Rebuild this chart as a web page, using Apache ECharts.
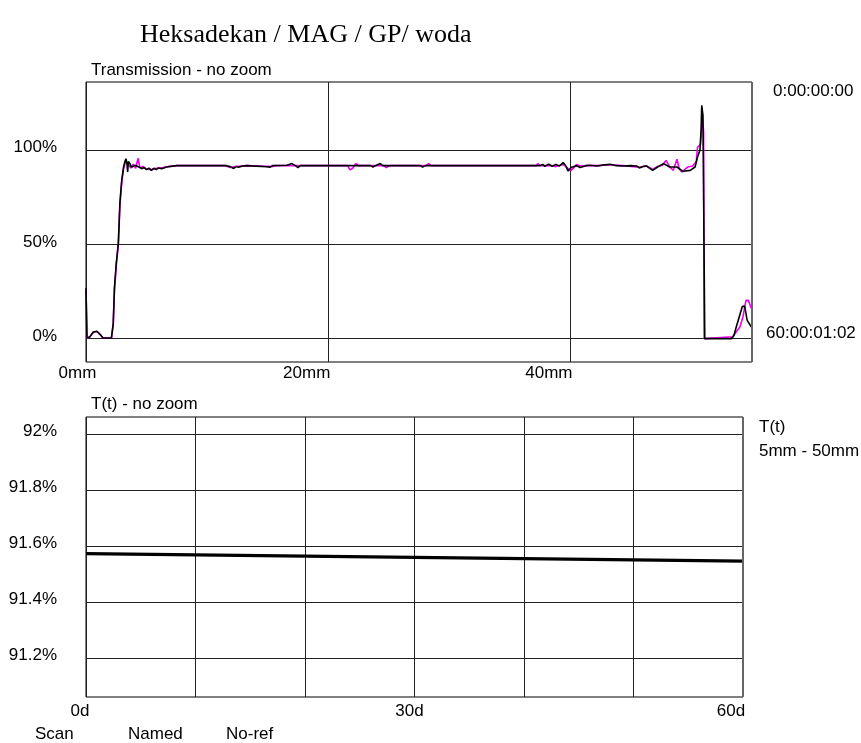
<!DOCTYPE html>
<html><head><meta charset="utf-8">
<script src="https://cdn.jsdelivr.net/npm/echarts@6/dist/echarts.min.js"></script>
<style>html,body{margin:0;padding:0;background:#fff}#c{width:861px;height:743px}</style>
</head><body><div id="c"></div>
<script>
// ---- data ----
const chartTitle = 'Heksadekan / MAG / GP/ woda';
const topPanelTitle = 'Transmission - no zoom';
const bottomPanelTitle = 'T(t) - no zoom';
const scanLabels = ['0:00:00:00', '60:00:01:02'];
const rangeLabels = ['T(t)', '5mm - 50mm'];
const footerLabels = ['Scan', 'Named', 'No-ref'];

const posTicks = [0, 20, 40];          // mm
const transTicks = [0, 50, 100];       // %
const dayTicks = [0, 30, 60];          // d
const tTicks = [91.2, 91.4, 91.6, 91.8, 92.0]; // %

// scan at 60 d (black): [position mm, transmission %]
const scanBlack = [
  [0,26.7],[0.08,0.5],[0.3,0.8],[0.6,3.5],[0.9,3.9],[1.2,2],[1.4,0.3],[2.1,0.3],[2.25,8],[2.35,27],[2.5,40],
  [2.67,50.6],[2.8,72],[2.95,84],[3.1,91],[3.2,93.7],[3.3,95.5],[3.38,93],[3.44,88.4],[3.5,94],[3.63,92.9],
  [3.75,91],[3.9,90.2],[4.05,92],[4.18,91.4],[4.4,91],[4.6,90.2],[4.8,90.8],[5.0,89.7],[5.2,90.5],[5.4,89.3],
  [5.6,90.4],[5.8,89.7],[6.0,90.6],[6.25,90.2],[6.66,91.1],[7.0,91.4],[7.5,91.8],[9,91.8],[11.6,91.8],
  [11.9,91.3],[12.2,90.3],[12.4,91.4],[12.6,91.0],[13.0,91.7],[13.3,91.8],[14.9,91.2],[15.2,91.0],[15.4,91.8],
  [16.6,92.0],[17.0,92.9],[17.3,91.8],[17.5,90.8],[17.7,91.8],[23.5,91.8],[23.7,91.1],[23.9,91.8],[24.3,92.9],
  [24.5,91.8],[27.6,91.8],[27.8,91.1],[28.0,91.8],[31.5,91.8],[31.6,90.9],[31.8,91.8],[35.6,91.8],[35.7,90.9],
  [35.9,91.8],[37.5,91.8],[37.7,92.5],[37.9,91.4],[38.2,92.6],[38.5,91.5],[38.8,92.4],[39.1,91.6],[39.4,93.4],
  [39.6,92.0],[39.8,89.0],[40.1,91.0],[40.5,91.8],[40.8,90.8],[41.3,91.8],[41.6,92.0],[42.2,91.6],[42.8,92.2],
  [43.3,92.5],[43.8,91.8],[44.3,91.6],[45.0,91.8],[45.5,91.6],[45.7,90.6],[46.0,91.4],[46.3,91.6],[46.8,89.3],
  [47.2,91.1],[47.7,92.9],[48.2,91.1],[48.8,91.1],[49.3,88.8],[49.9,89.3],[50.3,91.1],[50.5,96.4],[50.7,100],
  [50.8,111.5],[50.85,123.8],[50.95,118.5],[51.05,118.5],[51.1,0],[53.3,0],[53.5,1.5],[53.7,6.2],[54.2,17.1],
  [54.4,17.1],[54.6,9.7],[54.95,6.2]
];
// scan at 0 d (magenta)
const scanMagenta = [
  [0,26.0],[0.08,0.5],[0.3,0.8],[0.6,3.3],[0.9,3.8],[1.2,2],[1.4,0.3],[2.1,0.3],[2.25,8],[2.35,26],[2.5,39],
  [2.67,50],[2.8,71],[2.95,83],[3.1,90],[3.2,92.5],[3.3,94.2],[3.5,92.5],[3.7,90.5],[3.9,92.6],[4.1,90.4],
  [4.3,95.7],[4.45,90.6],[4.7,91.4],[5.0,90.0],[5.4,89.7],[5.8,90.4],[6.25,90.6],[6.66,91.2],[7.5,91.8],
  [11.5,91.8],[11.9,90.8],[12.2,91.2],[12.6,91.5],[13.3,91.8],[14.9,91.5],[15.4,91.3],[15.6,91.8],[21.6,91.8],
  [21.8,89.6],[22.0,90.3],[22.3,92.9],[22.5,91.8],[24.6,91.8],[24.8,90.8],[25.1,91.8],[28.1,91.8],[28.3,92.9],
  [28.5,91.8],[29.9,91.8],[30.0,90.8],[30.2,91.8],[31.6,91.8],[31.75,92.8],[31.9,91.8],[37.2,91.8],[37.3,92.9],
  [37.5,91.8],[38.5,91.8],[38.8,91.3],[39.4,92.4],[39.7,91.0],[40.0,89.0],[40.3,90.8],[40.5,92.4],[40.8,91.6],
  [41.3,91.8],[42.2,91.8],[43.3,92.3],[44.3,91.8],[45.7,91.0],[46.3,91.6],[46.8,89.8],[47.2,91.4],[47.6,92.0],
  [47.9,94.6],[48.2,91.1],[48.5,89.3],[48.8,95.2],[49.0,90.0],[49.2,88.4],[49.7,91.1],[50.1,91.6],[50.4,94.0],
  [50.5,101.7],[50.75,103],[50.9,117],[51.0,110],[51.05,0],[53.4,1],[54.0,6.2],[54.25,11.5],[54.5,20.3],
  [54.7,20.3],[54.95,16]
];
// T(t) mean transmission 5mm-50mm: [days, %]
const tOfT = [[0, 91.572], [60, 91.545]];

// ---- chart ----
const FS = 17;
const SANS = 'Liberation Sans, Arial, sans-serif';
const FONT = FS + 'px Liberation Sans, Arial, sans-serif';
const lab = {color:'#000', fontFamily:SANS, fontSize:FS};
const gridLine = {show:true, lineStyle:{color:'#222', width:1, type:'solid'}};
const edgeLine = (axisKey, v) => ({silent:true, symbol:'none', label:{show:false},
  lineStyle:{color:'#666', width:2, type:'solid'}, data:[{[axisKey]:v}]});
const posRich = {p0:{padding:[0,17,0,0]}, p1:{padding:[0,43,0,0]}};
const dayRich = {d0:{padding:[0,12,0,0]}, d1:{padding:[0,10,0,0]}, d2:{padding:[0,24,0,0]}};
const chart = echarts.init(document.getElementById('c'));
chart.setOption({
  animation:false,
  backgroundColor:'#fff',
  title:[
    {text:chartTitle, left:135, top:17, textStyle:{fontFamily:'Liberation Serif, Times New Roman, serif', fontWeight:'normal', fontSize:26, color:'#000'}},
    {text:topPanelTitle, left:86, top:57, textStyle:Object.assign({fontWeight:'normal'}, lab)},
    {text:bottomPanelTitle, left:86, top:391, textStyle:Object.assign({fontWeight:'normal'}, lab)}
  ],
  graphic:[
    {type:'text', left:773, top:83, style:{text:scanLabels[0], fill:'#000', font:FONT}},
    {type:'text', left:766, top:325, style:{text:scanLabels[1], fill:'#000', font:FONT}},
    {type:'text', left:759, top:419, style:{text:rangeLabels[0], fill:'#000', font:FONT}},
    {type:'text', left:759, top:443, style:{text:rangeLabels[1], fill:'#000', font:FONT}},
    {type:'text', left:35, top:726, style:{text:footerLabels[0], fill:'#000', font:FONT}},
    {type:'text', left:128, top:726, style:{text:footerLabels[1], fill:'#000', font:FONT}},
    {type:'text', left:226, top:726, style:{text:footerLabels[2], fill:'#000', font:FONT}}
  ],
  grid:[
    {left:86, top:82, width:666, height:280, show:true, borderColor:'#000', borderWidth:1, containLabel:false},
    {left:86, top:417, width:657, height:280, show:true, borderColor:'#000', borderWidth:1, containLabel:false}
  ],
  xAxis:[
    {gridIndex:0, type:'value', min:0, max:55,
     axisLine:{show:false}, axisTick:{show:false, customValues:posTicks},
     axisLabel:Object.assign({customValues:posTicks, margin:3, align:'center', rich:posRich,
       formatter:v=> (v===0 ? '{p0|' : '{p1|') + v + 'mm}'}, lab),
     splitLine:gridLine},
    {gridIndex:1, type:'value', min:0, max:60, interval:10,
     axisLine:{show:false}, axisTick:{show:false},
     axisLabel:Object.assign({customValues:dayTicks, margin:6, align:'center', rich:dayRich,
       formatter:v=> '{d' + (v/30) + '|' + v + 'd}'}, lab),
     splitLine:gridLine}
  ],
  yAxis:[
    {gridIndex:0, type:'value', min:-12.4, max:136.2,
     axisLine:{show:false}, axisTick:{show:false, customValues:transTicks},
     axisLabel:Object.assign({customValues:transTicks, margin:29, formatter:v=>v+'%', verticalAlign:'bottom', padding:[0,0,-6,0]}, lab),
     splitLine:gridLine},
    {gridIndex:1, type:'value', min:91.06, max:92.06,
     axisLine:{show:false}, axisTick:{show:false, customValues:tTicks},
     axisLabel:Object.assign({customValues:tTicks, margin:29, formatter:v=>(+v.toFixed(1))+'%', verticalAlign:'bottom', padding:[0,0,-6,0]}, lab),
     splitLine:gridLine}
  ],
  series:[
    {type:'line', xAxisIndex:0, yAxisIndex:0, data:scanMagenta, showSymbol:false, symbol:'none',
     lineStyle:{color:'#ee00ee', width:1.6}, z:3},
    {type:'line', xAxisIndex:0, yAxisIndex:0, data:scanBlack, showSymbol:false, symbol:'none',
     lineStyle:{color:'#000', width:1.6}, z:4, markLine:edgeLine('xAxis', 55)},
    {type:'line', xAxisIndex:1, yAxisIndex:1, data:tOfT, showSymbol:false, symbol:'none',
     lineStyle:{color:'#000', width:3.2}, z:4, markLine:edgeLine('xAxis', 60)}
  ]
});
</script></body></html>
